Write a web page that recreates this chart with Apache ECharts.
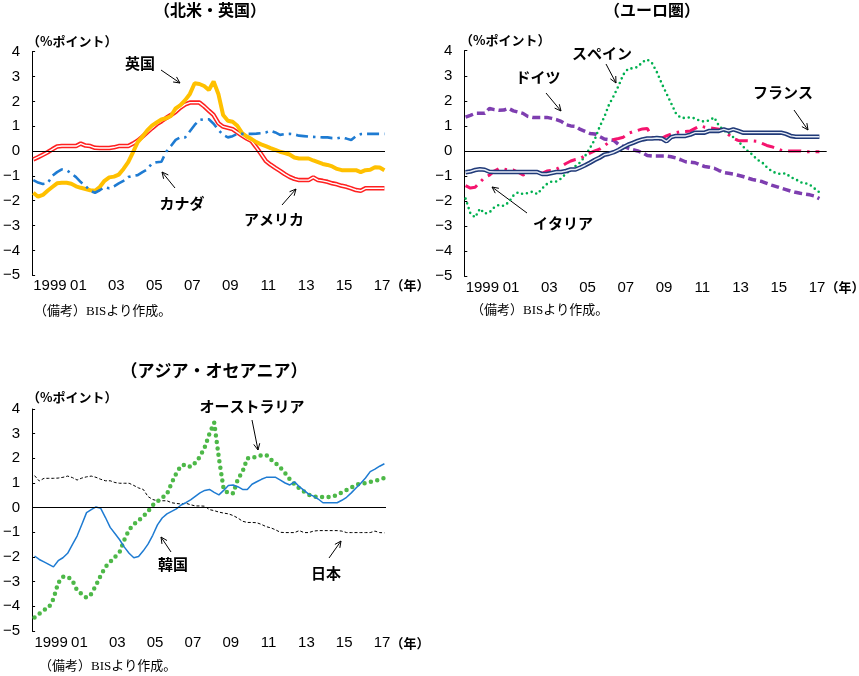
<!DOCTYPE html>
<html>
<head>
<meta charset="utf-8">
<title>chart</title>
<script src="https://cdn.jsdelivr.net/npm/echarts@6/dist/echarts.min.js"></script>
<style>
  html, body { margin: 0; padding: 0; background: #fff; }
  #main { width: 859px; height: 676px; }
</style>
</head>
<body>
<div id="main"></div>
<script>
// 四半期 1998Q3 ～ 2017Q1
var quarters = [];
for (var yy = 1998; yy <= 2017; yy++) {
  for (var qq = 1; qq <= 4; qq++) quarters.push(yy + 'Q' + qq);
}
quarters = quarters.slice(quarters.indexOf('1998Q3'), quarters.indexOf('2017Q1') + 1);

var tickYears = [1999, 2001, 2003, 2005, 2007, 2009, 2011, 2013, 2015, 2017];
var yTicks = [-5, -4, -3, -2, -1, 0, 1, 2, 3, 4];

// 北米・英国
var usa = [-0.34, -0.25, -0.15, -0.05, 0.07, 0.18, 0.2, 0.2, 0.2, 0.2,
  0.3, 0.22, 0.2, 0.13, 0.12, 0.12, 0.12, 0.15, 0.2, 0.2,
  0.2, 0.3, 0.42, 0.58, 0.75, 0.92, 1.08, 1.2, 1.33, 1.45,
  1.58, 1.75, 1.88, 1.95, 1.95, 1.95, 1.8, 1.62, 1.45, 1.12,
  0.98, 0.93, 0.88, 0.75, 0.62, 0.5, 0.4, 0.15, -0.12, -0.4,
  -0.55, -0.68, -0.8, -0.93, -1.04, -1.12, -1.17, -1.17, -1.17, -1.06,
  -1.17, -1.2, -1.24, -1.3, -1.34, -1.4, -1.44, -1.5, -1.57, -1.6,
  -1.5, -1.5, -1.5, -1.5, -1.5];
var uk = [-1.68, -1.84, -1.77, -1.6, -1.45, -1.3, -1.28, -1.28, -1.32, -1.42,
  -1.48, -1.53, -1.58, -1.6, -1.45, -1.2, -1.06, -1.03, -0.95, -0.72,
  -0.45, -0.05, 0.36, 0.58, 0.83, 1.02, 1.15, 1.27, 1.32, 1.41,
  1.72, 1.85, 2.05, 2.3, 2.73, 2.7, 2.62, 2.46, 2.8, 2.3,
  1.45, 1.22, 1.18, 1.02, 0.72, 0.58, 0.48, 0.36, 0.27, 0.2,
  0.12, 0.05, -0.03, -0.08, -0.14, -0.26, -0.3, -0.3, -0.3, -0.38,
  -0.45, -0.52, -0.56, -0.62, -0.72, -0.77, -0.77, -0.77, -0.77, -0.85,
  -0.77, -0.75, -0.65, -0.66, -0.77];
var canada = [-1.17, -1.27, -1.33, -1.3, -1.0, -0.85, -0.74, -0.77, -0.9, -1.05,
  -1.25, -1.41, -1.6, -1.68, -1.58, -1.45, -1.5, -1.42, -1.3, -1.2,
  -1.05, -1.0, -0.97, -0.85, -0.74, -0.5, -0.45, -0.43, -0.03, 0.2,
  0.45, 0.55, 0.55, 0.8, 1.05, 1.25, 1.28, 1.28, 1.1, 0.85,
  0.65, 0.55, 0.6, 0.69, 0.69, 0.69, 0.69, 0.7, 0.72, 0.75,
  0.82, 0.75, 0.65, 0.68, 0.69, 0.67, 0.62, 0.6, 0.58, 0.57,
  0.56, 0.55, 0.55, 0.52, 0.51, 0.55, 0.5, 0.44, 0.6, 0.68,
  0.69, 0.69, 0.69, 0.69, 0.69];

// ユーロ圏
var germany = [1.35, 1.42, 1.5, 1.5, 1.5, 1.7, 1.65, 1.62, 1.63, 1.7,
  1.6, 1.55, 1.5, 1.38, 1.34, 1.34, 1.34, 1.34, 1.3, 1.25,
  1.18, 1.05, 1.0, 0.98, 0.86, 0.78, 0.7, 0.68, 0.58, 0.48,
  0.45, 0.42, 0.26, 0.18, 0.11, 0.05, 0.0, -0.07, -0.18, -0.2,
  -0.2, -0.2, -0.2, -0.23, -0.28, -0.35, -0.43, -0.45, -0.47, -0.55,
  -0.62, -0.65, -0.69, -0.78, -0.86, -0.89, -0.92, -0.97, -1.02, -1.08,
  -1.14, -1.18, -1.22, -1.29, -1.36, -1.42, -1.48, -1.54, -1.6, -1.65,
  -1.69, -1.72, -1.75, -1.8, -1.9];
var spain = [-1.9, -2.49, -2.65, -2.3, -2.5, -2.45, -2.25, -2.15, -2.19, -2.05,
  -1.78, -1.65, -1.72, -1.68, -1.62, -1.72, -1.5, -1.32, -1.22, -1.22,
  -1.1, -0.9, -0.75, -0.6, -0.45, -0.2, 0.11, 0.45, 0.95, 1.35,
  1.85, 2.2, 2.6, 3.05, 3.28, 3.3, 3.35, 3.55, 3.65, 3.5,
  3.15, 2.7, 2.3, 1.9, 1.5, 1.32, 1.32, 1.34, 1.3, 1.2,
  1.17, 1.22, 1.34, 1.0, 0.82, 0.7, 0.55, 0.4, 0.18, 0.0,
  -0.15, -0.35, -0.45, -0.65, -0.8, -0.89, -0.92, -0.89, -1.05, -1.12,
  -1.25, -1.28, -1.35, -1.5, -1.65];
var france = [-0.85, -0.82, -0.76, -0.73, -0.75, -0.83, -0.84, -0.84, -0.84, -0.84,
  -0.84, -0.84, -0.84, -0.84, -0.84, -0.84, -0.92, -0.92, -0.88, -0.84,
  -0.84, -0.8, -0.74, -0.74, -0.66, -0.57, -0.47, -0.36, -0.27, -0.15,
  -0.11, -0.05, 0.04, 0.15, 0.25, 0.32, 0.4, 0.46, 0.5, 0.5,
  0.52, 0.5, 0.38, 0.55, 0.6, 0.6, 0.6, 0.65, 0.73, 0.73,
  0.73, 0.8, 0.8, 0.8, 0.86, 0.8, 0.86, 0.8, 0.73, 0.73,
  0.73, 0.73, 0.73, 0.73, 0.73, 0.73, 0.73, 0.68, 0.6, 0.57,
  0.57, 0.57, 0.57, 0.57, 0.57];
var italy = [-1.38, -1.48, -1.45, -1.25, -1.05, -0.96, -0.8, -0.7, -0.72, -0.76,
  -0.76, -0.85, -0.96, -0.88, -0.82, -0.85, -0.89, -0.8, -0.78, -0.73,
  -0.62, -0.5, -0.4, -0.34, -0.3, -0.18, -0.09, 0.0, 0.07, 0.2,
  0.35, 0.46, 0.5, 0.55, 0.7, 0.77, 0.82, 0.88, 0.9, 0.55,
  0.44, 0.5, 0.6, 0.68, 0.73, 0.77, 0.78, 0.8, 0.9, 1.0,
  0.95, 0.92, 0.9, 0.87, 0.84, 0.65, 0.5, 0.42, 0.41, 0.41,
  0.4, 0.38, 0.3, 0.22, 0.17, 0.1, 0.03, 0.0, 0.0, 0.0,
  0.0, -0.03, -0.03, -0.03, -0.03];

// アジア・オセアニア
var australia = [-4.45, -4.3, -4.15, -4.05, -3.7, -3.05, -2.8, -2.8, -2.95, -3.35,
  -3.5, -3.65, -3.5, -3.15, -2.75, -2.4, -2.2, -2.0, -1.8, -1.3,
  -0.9, -0.68, -0.52, -0.35, -0.15, 0.1, 0.25, 0.4, 0.55, 1.0,
  1.4, 1.7, 1.75, 1.65, 1.82, 2.07, 2.45, 3.0, 3.45, 2.0,
  0.75, 0.58, 0.58, 1.15, 1.46, 2.0, 2.0, 2.08, 2.12, 2.14,
  1.95, 1.8, 1.62, 1.4, 1.15, 0.95, 0.78, 0.65, 0.52, 0.45,
  0.43, 0.43, 0.43, 0.45, 0.52, 0.62, 0.72, 0.82, 0.93, 0.97,
  1.0, 1.05, 1.08, 1.14, 1.2];
var korea = [-1.96, -2.1, -2.2, -2.3, -2.4, -2.15, -2.03, -1.85, -1.5, -1.15,
  -0.68, -0.2, -0.08, 0.03, -0.03, -0.4, -0.8, -1.05, -1.3, -1.6,
  -1.85, -2.03, -1.98, -1.75, -1.48, -1.12, -0.7, -0.42, -0.25, -0.15,
  -0.05, 0.11, 0.2, 0.32, 0.46, 0.6, 0.7, 0.74, 0.62, 0.52,
  0.7, 0.9, 0.92, 0.85, 0.74, 0.74, 0.95, 1.05, 1.15, 1.23,
  1.23, 1.23, 1.12, 1.0, 0.92, 1.05, 0.85, 0.7, 0.55, 0.47,
  0.35, 0.2, 0.2, 0.2, 0.2, 0.3, 0.42, 0.6, 0.8, 0.99,
  1.2, 1.46, 1.56, 1.68, 1.78];
var japan = [1.3, 1.08, 1.19, 1.19, 1.19, 1.2, 1.23, 1.28, 1.22, 1.12,
  1.2, 1.25, 1.28, 1.23, 1.15, 1.09, 1.09, 1.02, 0.99, 0.99,
  0.99, 0.9, 0.8, 0.74, 0.45, 0.33, 0.28, 0.28, 0.28, 0.2,
  0.17, 0.15, 0.18, 0.12, 0.07, 0.07, 0.06, -0.08, -0.12, -0.18,
  -0.22, -0.25, -0.32, -0.42, -0.55, -0.6, -0.6, -0.61, -0.68, -0.77,
  -0.82, -0.9, -1.0, -1.01, -1.01, -1.01, -0.93, -1.01, -1.01, -0.95,
  -0.93, -0.93, -0.93, -0.93, -0.93, -0.95, -1.01, -1.01, -1.01, -1.01,
  -1.01, -1.01, -0.95, -1.01, -1.02];

var NUM_FONT = "'Liberation Sans Narrow', 'Arial Narrow', 'Liberation Sans', sans-serif";
var JP_FONT = "'Noto Sans CJK JP', sans-serif";

// 四半期の中央を年の値にする
var qx = quarters.map(function (s) {
  return +s.slice(0, 4) + (+s.slice(5) - 0.5) / 4;
});
// 1999 だけ少し右にずらして表示
var labelPos = tickYears.map(function (y) { return y === 1999 ? y + 0.5 : y; });

var Chart = echarts.init(document.getElementById('main'));

function xAx(idx, min, max, margin) {
  return {
    type: 'value', gridIndex: idx, min: min, max: max,
    axisLine: { show: false }, axisTick: { show: false }, splitLine: { show: false },
    axisLabel: {
      customValues: labelPos, color: '#000', fontSize: 15, fontFamily: NUM_FONT, margin: margin,
      formatter: function (v) {
        var y = Math.floor(v);
        return y === 1999 ? '1999' : String(y).slice(2);
      }
    }
  };
}

function yAx(idx) {
  return {
    type: 'value', gridIndex: idx, min: yTicks[0], max: yTicks[yTicks.length - 1], interval: 1,
    axisLine: { show: true, onZero: false, lineStyle: { color: '#000', width: 1 } },
    axisTick: { show: true, inside: true, length: 3, lineStyle: { color: '#000' } },
    splitLine: { show: false },
    axisLabel: {
      color: '#000', fontSize: 15, fontFamily: NUM_FONT, margin: 12,
      formatter: function (v) { return v < 0 ? '\u2212' + (-v) : String(v); }
    }
  };
}

function ser(idx, vals, style, z) {
  return {
    type: 'line', xAxisIndex: idx, yAxisIndex: idx, silent: true, animation: false,
    showSymbol: false, symbol: 'none', z: z || 2,
    data: vals.map(function (v, i) { return [qx[i], v]; }),
    lineStyle: style
  };
}

function zeroLine(s) {
  s.markLine = {
    silent: true, symbol: ['none', 'none'], animation: false,
    label: { show: false },
    lineStyle: { color: '#000', width: 1, type: 'solid' },
    data: [{ yAxis: 0 }]
  };
  return s;
}

// 注記テキストと矢印
var g = [];
function txt(x, y, s, font, align) {
  g.push({
    type: 'text', x: x, y: y, silent: true,
    style: {
      text: s, fill: '#000', font: font,
      align: align || 'center', verticalAlign: 'middle',
      textAlign: align || 'center', textVerticalAlign: 'middle'
    }
  });
}
function arrow(x1, y1, x2, y2) {
  var a = Math.atan2(y2 - y1, x2 - x1), L = 7, s = 0.45;
  g.push({ type: 'line', silent: true, shape: { x1: x1, y1: y1, x2: x2, y2: y2 },
    style: { stroke: '#000', lineWidth: 1 } });
  g.push({ type: 'polyline', silent: true,
    shape: { points: [
      [x2 - L * Math.cos(a - s), y2 - L * Math.sin(a - s)], [x2, y2],
      [x2 - L * Math.cos(a + s), y2 - L * Math.sin(a + s)]] },
    style: { stroke: '#000', lineWidth: 1, fill: null } });
}

var TITLE = 'bold 16px ' + JP_FONT;
var LAB = 'bold 15px ' + JP_FONT;
var UNIT = 'bold 13px ' + JP_FONT;
var NOTE = "13px 'Liberation Serif', 'Noto Sans CJK JP', serif";

txt(210, 10, '（北米・英国）', TITLE);
txt(652, 10, '（ユーロ圏）', TITLE);
txt(214, 371, '（アジア・オセアニア）', 'bold 17px ' + JP_FONT);

txt(27, 41, '（%ポイント）', UNIT, 'left');
txt(460, 40, '（%ポイント）', UNIT, 'left');
txt(27, 397, '（%ポイント）', UNIT, 'left');

txt(410, 285, '（年）', UNIT);
txt(845, 287, '（年）', UNIT);
txt(410, 643, '（年）', UNIT);

txt(34, 312, '（備考）BISより作成。', NOTE, 'left');
txt(471, 311, '（備考）BISより作成。', NOTE, 'left');
txt(39, 667, '（備考）BISより作成。', NOTE, 'left');

txt(140, 63, '英国', LAB); arrow(161, 70, 180, 83);
txt(182, 203, 'カナダ', LAB); arrow(175, 188, 162, 172);
txt(274, 219, 'アメリカ', LAB); arrow(282, 205, 296, 189);

txt(602, 53, 'スペイン', LAB); arrow(606, 64, 616, 83);
txt(538, 77, 'ドイツ', LAB); arrow(546, 93, 561, 111);
txt(783, 92, 'フランス', LAB); arrow(794, 110, 808, 130);
txt(563, 223, 'イタリア', LAB); arrow(527, 213, 492, 187);

txt(252, 406, 'オーストラリア', LAB); arrow(252, 420, 258, 450);
txt(173, 564, '韓国', LAB); arrow(171, 552, 161, 537);
txt(326, 573, '日本', LAB); arrow(329, 558, 341, 541);

var option = {
  backgroundColor: '#fff',
  animation: false,
  grid: [
    { left: 28.5, top: 51.7, width: 356.5, height: 223.5 },
    { left: 464.3, top: 50.7, width: 362.4, height: 225.6 },
    { left: 27.3, top: 409, width: 358.7, height: 222 }
  ],
  xAxis: [
    xAx(0, 1998.56, 2017.155, 3),
    xAx(1, 1998.558, 2017.507, 4),
    xAx(2, 1998.496, 2017.21, 4)
  ],
  yAxis: [yAx(0), yAx(1), yAx(2)],
  series: [
    // 北米・英国
    zeroLine(ser(0, usa, { color: '#FF2020', width: 4.5 }, 2)),
    ser(0, usa, { color: '#FFFFFF', width: 1.4 }, 3),
    ser(0, uk, { color: '#FFC000', width: 4 }, 4),
    ser(0, canada, { color: '#1E7BD2', width: 2.6, type: [12, 5, 2.5, 5] }, 5),
    // ユーロ圏
    zeroLine(ser(1, germany, { color: '#7E3EB0', width: 3.5, type: [8, 4] }, 2)),
    ser(1, spain, { color: '#00B050', width: 2.6, type: [0, 5], cap: 'round' }, 3),
    ser(1, italy, { color: '#F5146E', width: 3, type: [13, 6, 2.5, 6] }, 4),
    ser(1, france, { color: '#203A78', width: 4.5 }, 5),
    ser(1, france, { color: '#E6ECF7', width: 1.4 }, 6),
    // アジア・オセアニア
    zeroLine(ser(2, japan, { color: '#000', width: 1, type: [3, 2] }, 2)),
    ser(2, australia, { color: '#4DB848', width: 4.5, type: [0, 6.5], cap: 'round' }, 3),
    ser(2, korea, { color: '#1E7BD2', width: 1.5 }, 4)
  ],
  graphic: { elements: g }
};

Chart.setOption(option);
</script>
</body>
</html>
